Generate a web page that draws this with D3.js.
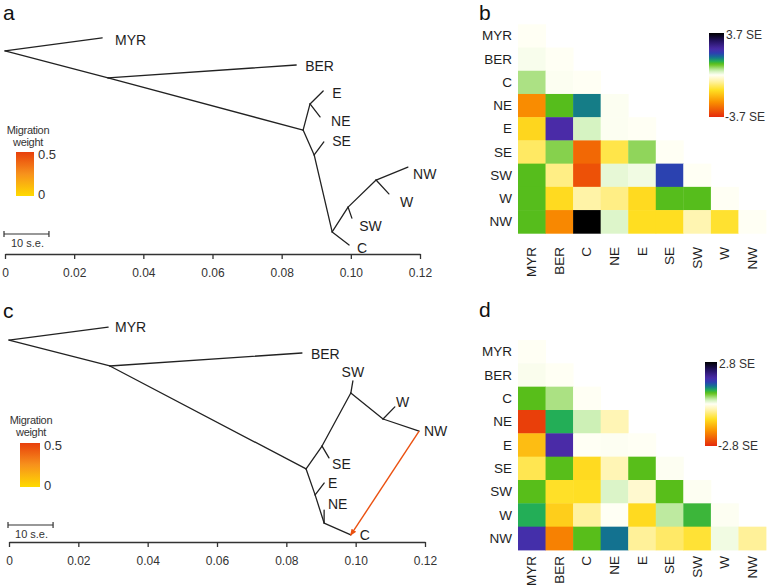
<!DOCTYPE html>
<html><head><meta charset="utf-8">
<script src="https://cdn.jsdelivr.net/npm/d3@7"></script>
<style>
body{margin:0;background:#fff;}
svg{display:block;font-family:"Liberation Sans",Arial,Helvetica,sans-serif;}
</style></head><body>
<svg id="fig" width="769" height="588"></svg>
<script>
// ---------------- DATA ----------------
const populations = ["MYR","BER","C","NE","E","SE","SW","W","NW"];
const driftTicks = [0, 0.02, 0.04, 0.06, 0.08, 0.10, 0.12];
const migrationLegendTicks = [0, 0.5];
const scaleBarDrift = 0.013;           // length of the "10 s.e." bar in drift units

// Tree (panel a): x = drift parameter, y = vertical layout position (0 top .. 1 bottom)
const treeANodes = [
  {id:"root",x:0,y:0.095},{id:"MYR",x:0.0281,y:0.036},{id:"n1",x:0.0298,y:0.218},
  {id:"BER",x:0.0842,y:0.159},{id:"n2",x:0.0862,y:0.455},{id:"nEN",x:0.0882,y:0.336},
  {id:"E",x:0.0920,y:0.277},{id:"NE",x:0.0911,y:0.395},{id:"nSE",x:0.0894,y:0.568},
  {id:"SE",x:0.0922,y:0.509},{id:"nL",x:0.0946,y:0.918},{id:"C",x:0.0995,y:0.977},
  {id:"nSW",x:0.0992,y:0.805},{id:"SW",x:0.1003,y:0.855},{id:"nW",x:0.1073,y:0.682},
  {id:"W",x:0.1110,y:0.745},{id:"NW",x:0.1165,y:0.623}
];
const treeAEdges = [["root","MYR"],["root","n1"],["n1","BER"],["n1","n2"],["n2","nEN"],["nEN","E"],
  ["nEN","NE"],["n2","nSE"],["nSE","SE"],["nSE","nL"],["nL","C"],["nL","nSW"],["nSW","SW"],
  ["nSW","nW"],["nW","W"],["nW","NW"]];
const treeALabels = [
  {name:"MYR",x:0.0318,y:0.045,pos:"right"},{name:"BER",x:0.0868,y:0.164,pos:"right"},
  {name:"E",x:0.0946,y:0.286,pos:"right"},{name:"NE",x:0.0943,y:0.414,pos:"right"},
  {name:"SE",x:0.0946,y:0.505,pos:"right"},{name:"NW",x:0.1180,y:0.655,pos:"right"},
  {name:"W",x:0.1142,y:0.782,pos:"right"},{name:"SW",x:0.1024,y:0.891,pos:"right"},
  {name:"C",x:0.1018,y:0.991,pos:"right"}
];
const treeAMigrations = [];

// Tree (panel c) with one migration edge
const treeCNodes = [
  {id:"root",x:0,y:0.091},{id:"MYR",x:0.0286,y:0.032},{id:"n1",x:0.0291,y:0.209},
  {id:"BER",x:0.0845,y:0.150},{id:"n2",x:0.0857,y:0.677},{id:"nSE",x:0.0903,y:0.573},
  {id:"SE",x:0.0923,y:0.627},{id:"nSW",x:0.0986,y:0.332},{id:"SW",x:0.0992,y:0.277},
  {id:"nW",x:0.1079,y:0.450},{id:"W",x:0.1113,y:0.395},{id:"NW",x:0.1183,y:0.505},
  {id:"nE",x:0.0883,y:0.795},{id:"E",x:0.0909,y:0.741},{id:"nNE",x:0.0909,y:0.923},
  {id:"NE",x:0.0909,y:0.864},{id:"C",x:0.0986,y:0.977}
];
const treeCEdges = [["root","MYR"],["root","n1"],["n1","BER"],["n1","n2"],["n2","nSE"],["nSE","SE"],
  ["nSE","nSW"],["nSW","SW"],["nSW","nW"],["nW","W"],["nW","NW"],["n2","nE"],["nE","E"],
  ["nE","nNE"],["nNE","NE"],["nNE","C"]];
const treeCLabels = [
  {name:"MYR",x:0.0306,y:0.032,pos:"right"},{name:"BER",x:0.0871,y:0.155,pos:"right"},
  {name:"SW",x:0.0992,y:0.236,pos:"above"},{name:"W",x:0.1116,y:0.373,pos:"right"},
  {name:"NW",x:0.1197,y:0.505,pos:"right"},{name:"SE",x:0.0932,y:0.655,pos:"right"},
  {name:"E",x:0.0920,y:0.741,pos:"right"},{name:"NE",x:0.0920,y:0.836,pos:"right"},
  {name:"C",x:0.1012,y:0.977,pos:"right"}
];
const treeCMigrations = [{from:"NW",to:"C",weight:0.45}];

// Residuals (in SE units), lower triangle incl. diagonal, rows/cols in `populations` order
const residMaxB = 3.7;
const residB = [
  [0],
  [0.05, 0],
  [0.55, 0.02, 0],
  [-2.45, 1.0, 1.5, 0.02],
  [-1.45, 2.3, 0.3, 0.02, 0],
  [-0.95, 0.75, -2.9, -1.1, 0.7, 0],
  [1.0, -0.75, -3.2, 0.18, 0.1, 1.9, 0],
  [1.0, -1.4, -0.55, -0.75, -1.4, 1.0, 1.0, 0],
  [1.0, -2.5, 3.7, 0.25, -1.35, -1.35, -0.48, -1.25, 0]
];
const residMaxD = 2.8;
const residD = [
  [0],
  [0.03, 0],
  [0.75, 0.42, 0],
  [-2.6, 0.92, 0.28, -0.34],
  [-1.35, 1.74, 0.0, 0.01, 0.0],
  [-0.8, 0.75, -1.06, -0.34, 0.75, 0.01],
  [0.75, -0.98, -1.0, 0.2, -0.2, 0.75, 0.01],
  [0.92, -1.18, -0.45, 0.0, -1.06, 0.34, 0.84, 0.01],
  [1.68, -1.96, 0.75, 1.18, -0.48, -0.7, -0.92, 0.08, -0.48]
];

// ---------------- DRAWING ----------------
const svg = d3.select("#fig");
const defs = svg.append("defs");
const FONT_COL = "#1e1e1e";

// colour ramp used by residual heatmaps (t in [-1, 1])
const residColor = d3.scaleLinear()
  .domain([-1, -0.64, -0.36, -0.15, 0, 0.1, 0.26, 0.33, 0.42, 0.52, 0.62, 0.82, 1])
  .range(["#e52a0c","#fa9200","#ffdf22","#fff3a6","#fffff4","#cdf0b6","#5fc012","#22ae58",
          "#137390","#2d3fb2","#4a2ba8","#22125e","#000000"])
  .clamp(true);
const migColor = d3.scaleLinear().domain([0, 0.25, 0.5]).range(["#ffda00","#f7921c","#e8400c"]);

// gradients
const gm = defs.append("linearGradient").attr("id","migGrad").attr("x1",0).attr("y1",1).attr("x2",0).attr("y2",0);
d3.range(0, 1.0001, 0.1).forEach(f => gm.append("stop").attr("offset", f).attr("stop-color", migColor(f*0.5)));
const gr = defs.append("linearGradient").attr("id","resGrad").attr("x1",0).attr("y1",1).attr("x2",0).attr("y2",0);
d3.range(0, 1.0001, 0.02).forEach(f => gr.append("stop").attr("offset", f).attr("stop-color", residColor(f*2-1)));
defs.append("marker").attr("id","arrowHead").attr("viewBox","0 0 10 10").attr("refX",8).attr("refY",5)
  .attr("markerWidth",5).attr("markerHeight",5).attr("orient","auto-start-reverse")
  .append("path").attr("d","M0,1 L10,5 L0,9 Z").attr("fill", migColor(0.45));

function panelLetter(txt, x, y){
  svg.append("text").attr("x",x).attr("y",y).attr("font-size",21).attr("fill","#111").text(txt);
}

function drawTree(cfg){
  const x = d3.scaleLinear().domain([0, 0.12]).range(cfg.xRange);
  const y = d3.scaleLinear().domain([0, 1]).range(cfg.yRange);
  const byId = new Map(cfg.nodes.map(n => [n.id, n]));
  const g = svg.append("g");
  g.selectAll("line.edge").data(cfg.edges).join("line").attr("class","edge")
    .attr("x1", e => x(byId.get(e[0]).x)).attr("y1", e => y(byId.get(e[0]).y))
    .attr("x2", e => x(byId.get(e[1]).x)).attr("y2", e => y(byId.get(e[1]).y))
    .attr("stroke","#222").attr("stroke-width",1.3).attr("stroke-linecap","round");
  g.selectAll("line.mig").data(cfg.migrations).join("line").attr("class","mig")
    .attr("x1", m => x(byId.get(m.from).x)).attr("y1", m => y(byId.get(m.from).y))
    .attr("x2", m => x(byId.get(m.to).x)).attr("y2", m => y(byId.get(m.to).y))
    .attr("stroke", m => migColor(m.weight)).attr("stroke-width",1.4)
    .attr("marker-end","url(#arrowHead)");
  g.selectAll("text.tip").data(cfg.labels).join("text").attr("class","tip")
    .attr("x", d => x(d.x)).attr("y", d => y(d.y))
    .attr("text-anchor", d => d.pos === "above" ? "middle" : "start")
    .attr("dominant-baseline","central")
    .attr("font-size",14).attr("fill",FONT_COL).text(d => d.name);
  // axis
  const ax = g.append("g").attr("transform", `translate(0,${cfg.axisY})`)
    .call(d3.axisBottom(x).tickValues(driftTicks).tickSize(5).tickSizeOuter(0).tickPadding(9)
      .tickFormat(d => d === 0 ? "0" : d.toFixed(2)));
  ax.select(".domain").attr("stroke","#333").attr("stroke-width",1.3);
  ax.selectAll(".tick line").attr("stroke","#333").attr("stroke-width",1.3);
  ax.selectAll(".tick text").attr("font-size",12).attr("fill","#333")
    .attr("font-family",'"Liberation Sans",Arial,sans-serif');
  // scale bar
  const sb = g.append("g");
  const sx0 = x(0) - 1, sx1 = x(scaleBarDrift) - 1, sy = cfg.scaleBarY;
  sb.append("line").attr("x1",sx0).attr("x2",sx1).attr("y1",sy).attr("y2",sy).attr("stroke","#333").attr("stroke-width",1.2);
  [sx0, sx1].forEach(v => sb.append("line").attr("x1",v).attr("x2",v).attr("y1",sy-3).attr("y2",sy+3).attr("stroke","#333").attr("stroke-width",1.2));
  sb.append("text").attr("x",(sx0+sx1)/2+1).attr("y",sy+9).attr("text-anchor","middle").attr("dominant-baseline","central")
    .attr("font-size",11).attr("fill","#333").text("10 s.e.");
  // migration weight legend
  const L = cfg.legend;
  g.append("text").attr("x",L.cx).attr("y",L.titleY).attr("text-anchor","middle").attr("dominant-baseline","central")
    .attr("font-size",11).attr("letter-spacing","-0.3").attr("fill","#333").text("Migration");
  g.append("text").attr("x",L.cx).attr("y",L.titleY+12).attr("text-anchor","middle").attr("dominant-baseline","central")
    .attr("font-size",11).attr("letter-spacing","-0.3").attr("fill","#333").text("weight");
  g.append("rect").attr("x",L.x).attr("y",L.y).attr("width",L.w).attr("height",L.h).attr("fill","url(#migGrad)");
  const ly = d3.scaleLinear().domain([0,0.5]).range([L.y+L.h-2, L.y+2]);
  g.selectAll("text.mleg").data(migrationLegendTicks).join("text").attr("class","mleg")
    .attr("x", L.x+L.w+4).attr("y", d => ly(d)).attr("dominant-baseline","central")
    .attr("font-size",13).attr("fill","#333").text(d => d === 0 ? "0" : d);
}

function drawHeat(cfg){
  const x = d3.scaleBand().domain(populations).range(cfg.xRange);
  const y = d3.scaleBand().domain(populations).range(cfg.yRange);
  const cells = [];
  cfg.values.forEach((row, i) => row.forEach((v, j) => cells.push({r:populations[i], c:populations[j], v})));
  const g = svg.append("g");
  g.selectAll("rect.cell").data(cells).join("rect").attr("class","cell")
    .attr("x", d => x(d.c)).attr("y", d => y(d.r))
    .attr("width", x.bandwidth()+0.4).attr("height", y.bandwidth()+0.4)
    .attr("fill", d => residColor(d.v / cfg.max));
  g.selectAll("text.rlab").data(populations).join("text").attr("class","rlab")
    .attr("x", cfg.xRange[0]-6).attr("y", d => y(d)+y.bandwidth()/2)
    .attr("text-anchor","end").attr("dominant-baseline","central")
    .attr("font-size",13.5).attr("fill",FONT_COL).text(d => d);
  g.selectAll("text.clab").data(populations).join("text").attr("class","clab")
    .attr("transform", d => `translate(${x(d)+x.bandwidth()/2},${cfg.colLabelY}) rotate(-90)`)
    .attr("text-anchor","end").attr("dominant-baseline","central")
    .attr("font-size",13.5).attr("fill",FONT_COL).text(d => d);
  // legend
  const L = cfg.legend;
  g.append("rect").attr("x",L.x).attr("y",L.y).attr("width",L.w).attr("height",L.h).attr("fill","url(#resGrad)");
  const ly = d3.scaleLinear().domain([-cfg.max, cfg.max]).range([L.y+L.h, L.y]);
  g.selectAll("text.hleg").data([cfg.max, -cfg.max]).join("text").attr("class","hleg")
    .attr("x", d => L.x+L.w+(d>0?2:1)).attr("y", d => ly(d) + (d>0?2:0)).attr("dominant-baseline","central")
    .attr("font-size",12).attr("fill","#333").text(d => `${d} SE`);
}

panelLetter("a", 3, 20);
panelLetter("b", 479, 20);
panelLetter("c", 3, 318);
panelLetter("d", 479, 317);

drawTree({nodes:treeANodes, edges:treeAEdges, labels:treeALabels, migrations:treeAMigrations,
  xRange:[5,420], yRange:[30,250], axisY:254, scaleBarY:234,
  legend:{cx:28, titleY:130, x:16, y:152, w:18, h:44}});
drawTree({nodes:treeCNodes, edges:treeCEdges, labels:treeCLabels, migrations:treeCMigrations,
  xRange:[9,425], yRange:[320,540], axisY:542, scaleBarY:525,
  legend:{cx:31, titleY:420, x:20, y:443, w:20, h:44}});

drawHeat({values:residB, max:residMaxB, xRange:[518,766], yRange:[24.3,233.3], colLabelY:247,
  legend:{x:709, y:33, w:15, h:84}});
drawHeat({values:residD, max:residMaxD, xRange:[518,766], yRange:[340,550], colLabelY:556,
  legend:{x:705, y:362, w:12, h:84}});
</script></body></html>
